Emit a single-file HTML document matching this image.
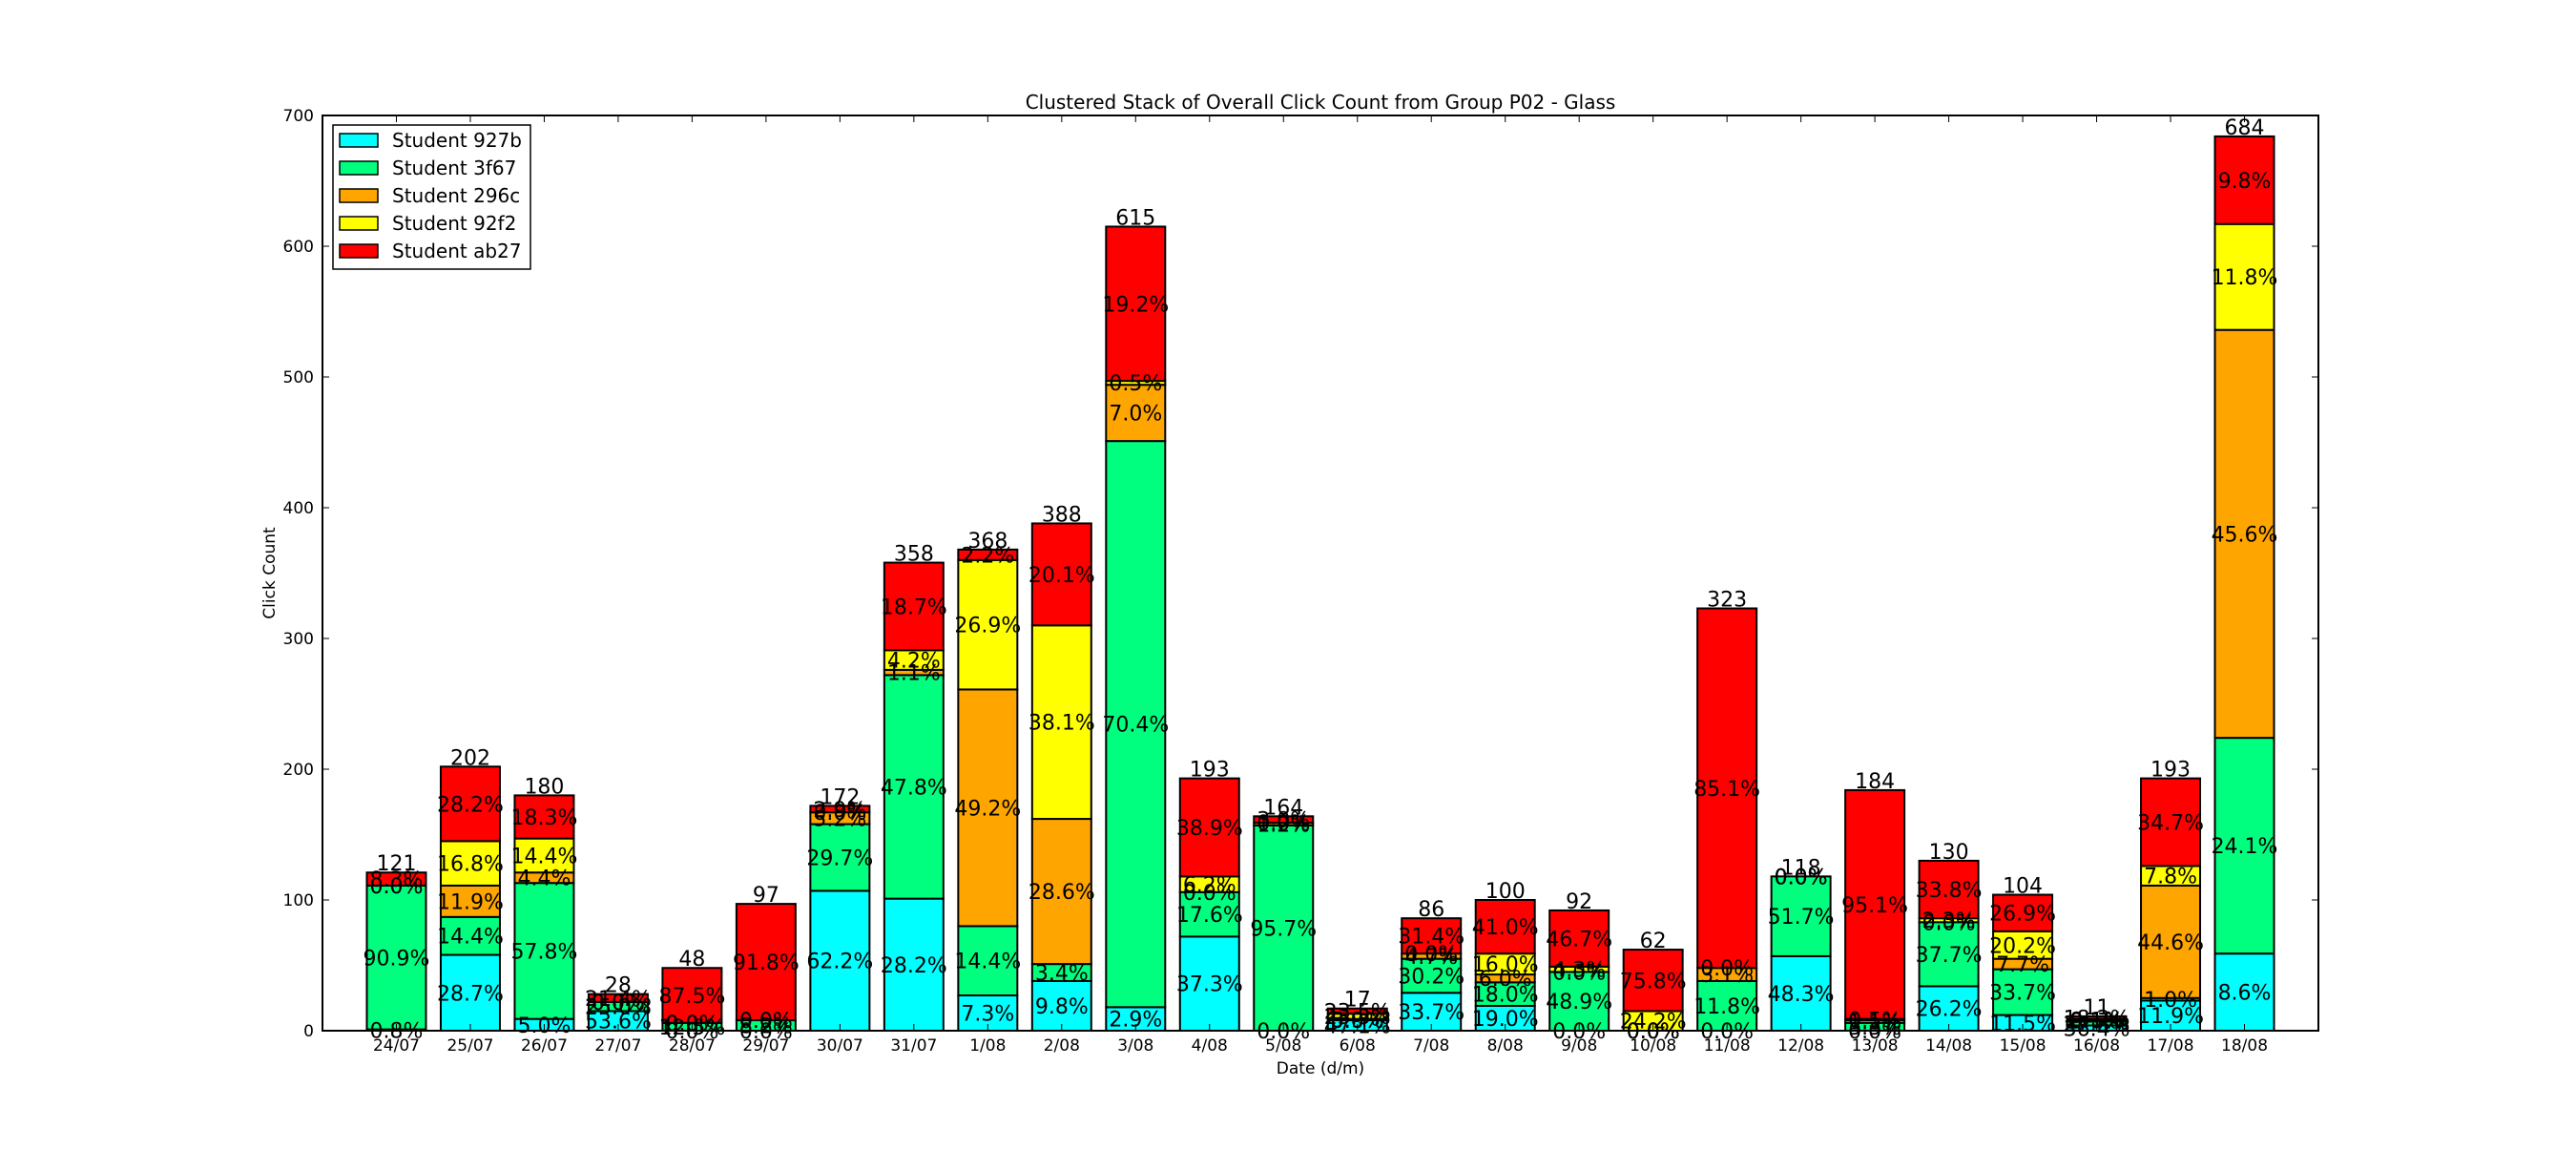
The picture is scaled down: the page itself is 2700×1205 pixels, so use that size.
<!DOCTYPE html>
<html><head><meta charset="utf-8">
<style>
html,body{margin:0;padding:0;background:#fff;}
svg text{font-family:"DejaVu Sans","Liberation Sans",sans-serif;}
</style></head>
<body>
<svg id="chart" width="2700" height="1200" viewBox="0 0 2700 1200" xmlns="http://www.w3.org/2000/svg">
<rect x="0" y="0" width="2700" height="1200" fill="#fff"/>
<g id="plot"></g>
</svg>
<script>
const categories = ["24/07","25/07","26/07","27/07","28/07","29/07","30/07","31/07","1/08","2/08","3/08","4/08","5/08","6/08","7/08","8/08","9/08","10/08","11/08","12/08","13/08","14/08","15/08","16/08","17/08","18/08"];
const seriesNames = ["Student 927b","Student 3f67","Student 296c","Student 92f2","Student ab27"];
const s927b = [1,58,9,15,0,0,107,101,27,38,18,72,0,8,29,19,0,0,0,57,0,34,12,4,23,59];
const s3f67 = [110,29,104,7,6,8,51,171,53,13,433,34,157,0,26,18,45,0,38,61,6,49,35,3,2,165];
const s296c = [0,24,8,0,0,0,9,4,181,111,43,0,2,1,4,6,0,0,10,0,2,0,8,1,86,312];
const s92f2 = [0,34,26,0,0,0,0,15,99,148,3,12,0,4,0,16,4,15,0,0,1,3,21,1,15,81];
const sab27 = [10,57,33,6,42,89,5,67,8,78,118,75,5,4,27,41,43,47,275,0,175,44,28,2,67,67];
const yTicks = [0,100,200,300,400,500,600,700];
</script>
<script>
const series = [s927b,s3f67,s296c,s92f2,sab27];
const colors = ["#00ffff","#00ff7f","#ffa500","#ffff00","#ff0000"];
const NS = "http://www.w3.org/2000/svg";
const L = 338, R = 2430, T = 121, B = 1080;
const yMax = 700;
const unit = (R - L) / 27;
function xc(i){ return L + unit * (i + 1); }
function y(v){ return B - (B - T) * v / yMax; }
const barW = unit * 0.8;
const g = document.getElementById('plot');
function mk(tag, attrs, parent){
  const e = document.createElementNS(NS, tag);
  for (const k in attrs) e.setAttribute(k, attrs[k]);
  (parent || g).appendChild(e);
  return e;
}
categories.forEach((c, i) => {
  let base = 0;
  const total = series.reduce((a, s) => a + s[i], 0);
  const bg = mk('g', {});
  
  
  series.forEach((s, k) => {
    const v = s[i];
    const r = mk('rect', {x: xc(i) - barW/2, y: y(base + v), width: barW, height: Math.max(0, y(base) - y(base + v)), fill: colors[k], stroke: '#000', 'stroke-width': 2}, bg);
    
    
    base += v;
  });
  base = 0;
  series.forEach((s, k) => {
    const v = s[i];
    const pct = total ? (100 * v / total) : 0;
    const t = mk('text', {x: xc(i), y: (y(base) + y(base + v)) / 2 + 8, 'font-size': 22, 'text-anchor': 'middle', fill: '#000'}, bg);
    t.textContent = pct.toFixed(1) + '%';
    
    
    base += v;
  });
  const tt = mk('text', {x: xc(i), y: y(total) - 2, 'font-size': 22, 'text-anchor': 'middle', fill: '#000'}, bg);
  tt.textContent = total;
  
  
  const tk1 = mk('line', {x1: xc(i), x2: xc(i), y1: B, y2: B - 7, stroke: '#000', 'stroke-width': 1});
  
  
  const tk2 = mk('line', {x1: xc(i), x2: xc(i), y1: T, y2: T + 7, stroke: '#000', 'stroke-width': 1});
  
  
  const xl = mk('text', {x: xc(i), y: B + 21, 'font-size': 17, 'text-anchor': 'middle', fill: '#000'});
  xl.textContent = c;
  
  
});
yTicks.forEach(v => {
  const a = mk('line', {x1: L, x2: L + 7, y1: y(v), y2: y(v), stroke: '#000', 'stroke-width': 1});
  
  
  const b = mk('line', {x1: R, x2: R - 7, y1: y(v), y2: y(v), stroke: '#000', 'stroke-width': 1});
  
  
  const t = mk('text', {x: L - 9, y: y(v) + 6, 'font-size': 17, 'text-anchor': 'end', fill: '#000'});
  t.textContent = v;
  
  
});
const fr = mk('rect', {x: L, y: T, width: R - L, height: B - T, fill: 'none', stroke: '#000', 'stroke-width': 2});


const ti = mk('text', {x: (L + R) / 2, y: 114, 'font-size': 20, 'text-anchor': 'middle', fill: '#000'});
ti.textContent = 'Clustered Stack of Overall Click Count from Group P02 - Glass';


const xt = mk('text', {x: (L + R) / 2, y: 1125, 'font-size': 17, 'text-anchor': 'middle', fill: '#000'});
xt.textContent = 'Date (d/m)';


const yt = mk('text', {x: 0, y: 0, 'font-size': 17, 'text-anchor': 'middle', fill: '#000', transform: 'translate(288,' + ((T + B) / 2) + ') rotate(-90)'});
yt.textContent = 'Click Count';


const lg = mk('g', {});


mk('rect', {x: 349, y: 131, width: 207, height: 151, fill: '#fff', stroke: '#000', 'stroke-width': 1.5}, lg);
seriesNames.forEach((n, k) => {
  const cy = 147 + k * 29;
  const p = mk('rect', {x: 356, y: cy - 7, width: 40, height: 14, fill: colors[k], stroke: '#000', 'stroke-width': 1.5}, lg);
  
  
  const t = mk('text', {x: 411, y: cy + 7, 'font-size': 20, fill: '#000'}, lg);
  t.textContent = n;
  
  
});
</script>
</body></html>
